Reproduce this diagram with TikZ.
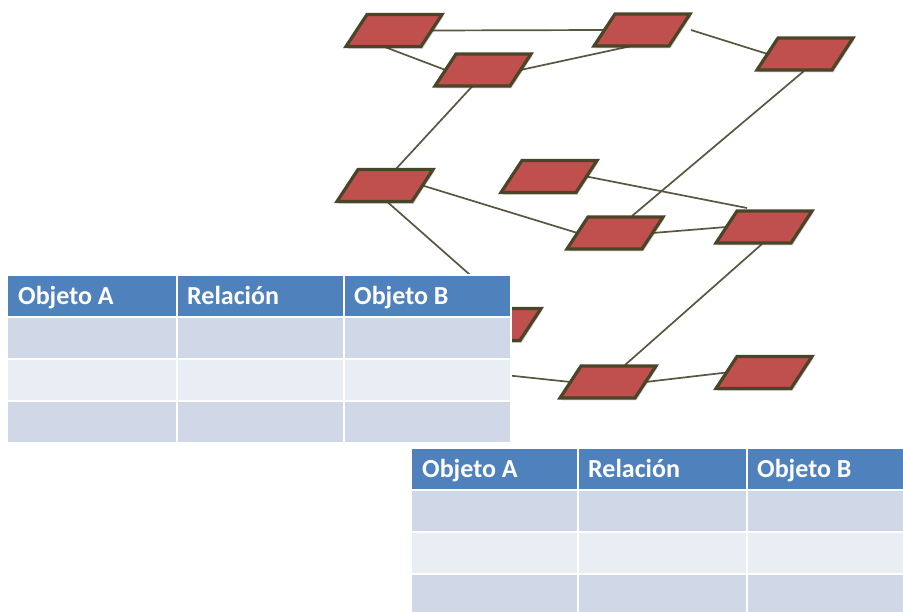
\documentclass[tikz,border=0pt]{standalone}
\usepackage{fontspec}
\newfontfamily\hdrfont{Carlito}
\usetikzlibrary{calc}
\definecolor{boxred}{HTML}{C0504D}
\definecolor{boxedge}{HTML}{4A4528}
\definecolor{linkcol}{HTML}{5A5640}
\definecolor{hdrblue}{HTML}{4F81BD}
\definecolor{rowdark}{HTML}{D0D8E8}
\definecolor{rowlight}{HTML}{E9EDF4}
\tikzset{
  para/.pic={
    \fill[black,opacity=.16] (-25.5,-14)--(49.5,-14)--(28.5,18.5)--(-46.5,18.5)--cycle;
    \draw[fill=boxred,draw=boxedge,line width=3.2pt,line join=miter] (-27,-16)--(48,-16)--(27,16)--(-48,16)--cycle;
  },
  link/.style={draw=linkcol,line width=1.7pt},
  hdrcell/.style={fill=hdrblue},
  darkcell/.style={fill=rowdark},
  lightcell/.style={fill=rowlight},
  hdrtext/.style={anchor=base west,inner sep=0pt,text=white,font=\hdrfont\bfseries\fontsize{26}{30}\selectfont}
}
\begin{document}
\begin{tikzpicture}[x=1pt,y=-1pt]
\useasboundingbox (0,0) rectangle (903,612);
\clip (0,0) rectangle (903,612);
\fill[white] (0,0) rectangle (903,612);
% centres of the parallelograms
\coordinate (p1) at (394,30.5);
\coordinate (p2) at (483,70);
\coordinate (p3) at (642,30);
\coordinate (p4) at (805,54);
\coordinate (p5) at (385,185.5);
\coordinate (p6) at (549,176.5);
\coordinate (p7) at (615,233);
\coordinate (p8) at (764,227);
\coordinate (p9) at (493,324.5);
\coordinate (p10) at (608,382);
\coordinate (p11) at (764,372.5);
\coordinate (h1) at (420,366);
% connectors
\draw[link] ($(p1)+(37.5,0)$) -- ($(p3)+(-37.5,0)$);
\draw[link] ($(p1)+(-10.5,16)$) -- ($(p2)+(-37.5,0)$);
\draw[link] ($(p2)+(37.5,0)$) -- ($(p3)+(-10.5,16)$);
\draw[link] ($(p3)+(49,0)$) -- ($(p4)+(-37.5,0)$);
\draw[link] ($(p2)+(-10.5,16)$) -- ($(p5)+(10.5,-16)$);
\draw[link] ($(p5)+(3,17)$) -- ($(p9)+(14,-17)$);
\draw[link] ($(p5)+(37.5,0)$) -- ($(p7)+(-37.5,0)$);
\draw[link] ($(p6)+(37.5,0)$) -- ($(p8)+(-17,-19)$);
\draw[link] ($(p4)+(-1,17)$) -- ($(p7)+(17,-17)$);
\draw[link] ($(p7)+(37.5,0)$) -- ($(p8)+(-37.5,0)$);
\draw[link] ($(p8)+(-2,17)$) -- ($(p10)+(17,-17)$);
\draw[link] ($(p10)+(37.5,0)$) -- ($(p11)+(-37.5,0)$);
\draw[link] (h1) -- ($(p10)+(-37.5,0)$);
% parallelograms
\foreach \p in {p1,p2,p3,p4,p5,p6,p7,p8,p9,p10,p11} {
  \pic at (\p) {para};
}
% table 1
\fill[white] (6,274) rectangle (512,444);
\fill[hdrcell] (8,276) rectangle (176,316);
\fill[hdrcell] (178,276) rectangle (343,316);
\fill[hdrcell] (345,276) rectangle (510,316);
\foreach \a/\b/\s in {318/358/darkcell,360/400/lightcell,402/442/darkcell} {
  \fill[\s] (8,\a) rectangle (176,\b);
  \fill[\s] (178,\a) rectangle (343,\b);
  \fill[\s] (345,\a) rectangle (510,\b);
}
\node[hdrtext] (t1a) at (18,304.5) {Objeto A};
\node[hdrtext] (t1r) at (187,304.5) {Relación};
\node[hdrtext] (t1b) at (354,304.5) {Objeto B};
% table 2
\fill[white] (410,447) rectangle (920,620);
\fill[hdrcell] (412,449) rectangle (577,489);
\fill[hdrcell] (579,449) rectangle (746,489);
\fill[hdrcell] (748,449) rectangle (915,489);
\foreach \a/\b/\s in {491/531/darkcell,533/573/lightcell,575/615/darkcell} {
  \fill[\s] (412,\a) rectangle (577,\b);
  \fill[\s] (579,\a) rectangle (746,\b);
  \fill[\s] (748,\a) rectangle (915,\b);
}
\node[hdrtext] (t2a) at (422,477.5) {Objeto A};
\node[hdrtext] (t2r) at (588,477.5) {Relación};
\node[hdrtext] (t2b) at (757,477.5) {Objeto B};
\end{tikzpicture}
\end{document}
